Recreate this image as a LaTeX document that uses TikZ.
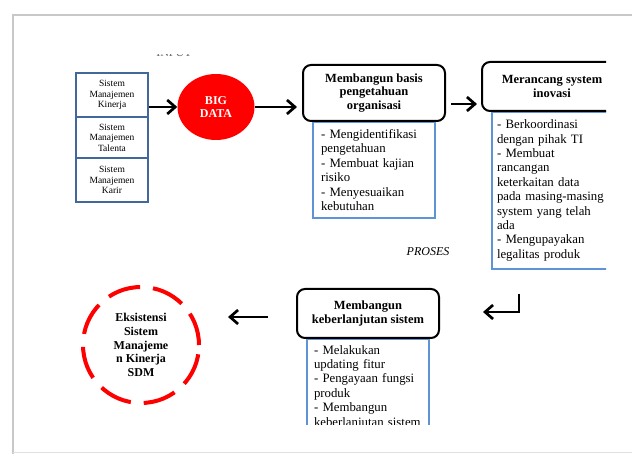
\documentclass[tikz,border=0pt]{standalone}
\usepackage{fontspec}
\setmainfont{Liberation Serif}
\usepackage{tikz}
\usetikzlibrary{shapes.geometric}
\usetikzlibrary{arrows.meta}
\usepackage{xcolor}
\definecolor{stackblue}{HTML}{41679B}
\definecolor{listblue}{HTML}{5F93D8}
\definecolor{pagegray}{HTML}{C8C8C8}

\begin{document}
\begin{tikzpicture}[x=1pt, y=-1pt]
        % ================= styles =================
        \tikzset{
            % small input boxes (blue frame)
            sysbox/.style={rectangle, draw=stackblue, line width=1.8pt, fill=white, minimum width=72pt, inner sep=0pt, align=center, font=\fontsize{9.5}{10.5}\selectfont},
            % red ellipse
            bignode/.style={ellipse, fill=red, minimum width=77pt, minimum height=66pt, inner sep=0pt, align=center, text=white, font=\fontsize{12}{13}\selectfont\bfseries},
            % rounded step title
            stepbox/.style={rectangle, rounded corners=8pt, draw=black, line width=2pt, fill=white, minimum width=142pt, inner sep=2pt, align=center, font=\fontsize{12.5}{13.8}\selectfont\bfseries},
            % list under each step
            listbox/.style={rectangle, draw=listblue, line width=2pt, fill=white, anchor=north, inner ysep=4pt, align=left, font=\fontsize{12.8}{14.4}\selectfont},
            % dashed red goal circle
            goalnode/.style={circle, draw=red, line width=4pt, dash pattern=on 33pt off 13pt, minimum size=116pt, inner sep=0pt, align=center, font=\fontsize{12}{13.6}\selectfont\bfseries},
            % thick arrows
            flow/.style={line width=2.7pt, -{Straight Barb[length=8pt, width=14pt]}},
            pageedge/.style={line width=2.5pt, pagegray}
        }
        \useasboundingbox (0,0) rectangle (632,454);

        % ================= page edge =================
        \draw[pageedge] (13,454) -- (13,15) -- (632,15);
        \draw[pageedge, line width=1pt, black!12] (13,452) -- (632,452);

        \begin{scope}
            \clip (13,54.6) rectangle (606,424);

            % ================= input =================
            \node[font=\fontsize{12}{12}\selectfont, text=black!60, anchor=base] (inputlbl) at (174,57) {INPUT};

            \node[sysbox, minimum height=44pt] (sk1) at (112,95) {Sistem\\Manajemen\\Kinerja};
            \node[sysbox, minimum height=41pt] (sk2) at (112,137.5) {Sistem\\Manajemen\\Talenta};
            \node[sysbox, minimum height=44pt] (sk3) at (112,180) {Sistem\\Manajemen\\Karir};

            \node[bignode] (bigdata) at (216,107) {BIG\\DATA};

            % ================= proses =================
            \node[listbox, text width=106pt, inner xsep=8pt, minimum height=96pt] (basislist) at (374,121)
                {- Mengidentifikasi\\pengetahuan\\- Membuat kajian\\risiko\\- Menyesuaikan\\kebutuhan};
            \node[stepbox, minimum height=56pt] (basis) at (374,93) {Membangun basis\\pengetahuan\\organisasi};

            \node[listbox, text width=112pt, inner xsep=5pt, minimum height=157pt] (inovasilist) at (553,111)
                {- Berkoordinasi\\dengan pihak TI\\- Membuat\\rancangan\\keterkaitan data\\pada masing-masing\\system yang telah\\ada\\- Mengupayakan\\legalitas produk};
            \node[stepbox, minimum width=140pt, minimum height=49pt] (inovasi) at (552,86.5) {Merancang system\\inovasi};

            \node[font=\fontsize{12}{12}\selectfont\itshape, anchor=base] (proseslbl) at (428,256) {PROSES};

            \node[listbox, text width=108pt, inner xsep=7pt, minimum height=96pt] (lanjutlist) at (368,338)
                {- Melakukan\\updating fitur\\- Pengayaan fungsi\\produk\\- Membangun\\keberlanjutan sistem};
            \node[stepbox, minimum height=49pt] (lanjut) at (368,313.5) {Membangun\\keberlanjutan sistem};

            % ================= output =================
            \node[goalnode] (goal) at (141,345) {Eksistensi\\Sistem\\Manajeme\\n Kinerja\\SDM};

            % ================= arrows =================
            \coordinate (bendtop) at (519,294);
            \coordinate (bendend) at (483,312);
            \coordinate (backstart) at (268,317);
            \coordinate (backend) at (228,317);

            \draw[flow] (bigdata.west -| sk1.east) -- (bigdata.west);
            \draw[flow, shorten >=5pt] (bigdata.east) -- (bigdata.east -| basis.west);
            \draw[flow, shorten <=5pt, shorten >=4pt] (basis.east |- 0,104) -- (inovasi.west |- 0,104);
            \draw[flow] (bendtop) |- (bendend);
            \draw[flow] (backstart) -- (backend);
        \end{scope}

    \end{tikzpicture}
\end{document}
